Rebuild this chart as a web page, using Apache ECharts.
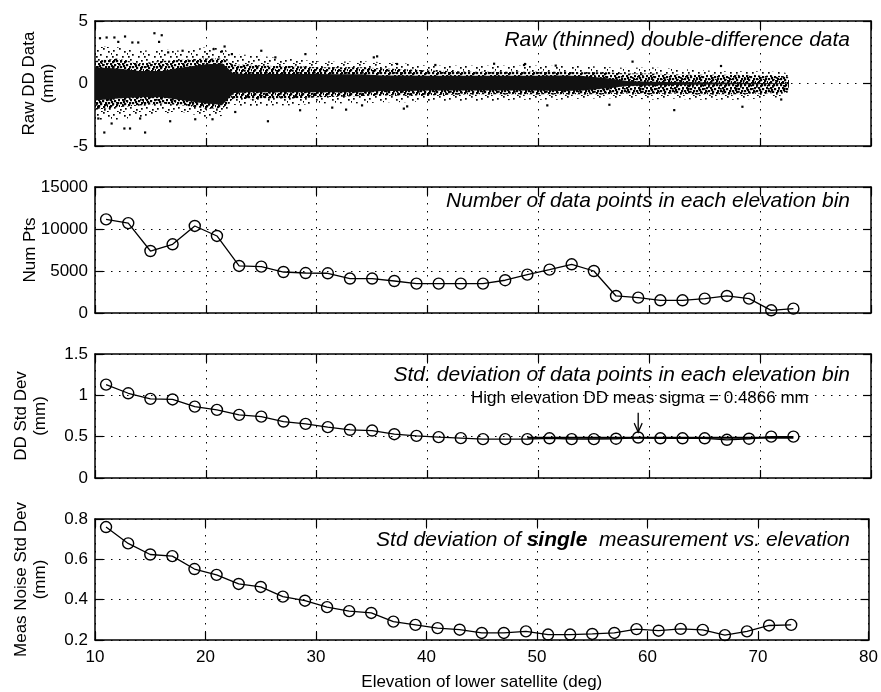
<!DOCTYPE html>
<html>
<head>
<meta charset="utf-8">
<script src="https://cdn.jsdelivr.net/npm/echarts@6/dist/echarts.min.js"></script>
<style>
  html, body { margin: 0; padding: 0; background: #fff; }
  #chart { width: 881px; height: 692px; }
</style>
</head>
<body>
<div id="chart"></div>
<script>
// ---- Elevation bins (deg) ----
const elev = [11, 13, 15, 17, 19, 21, 23, 25, 27, 29, 31, 33, 35, 37, 39, 41,
              43, 45, 47, 49, 51, 53, 55, 57, 59, 61, 63, 65, 67, 69, 71, 73];

// Number of data points in each elevation bin
const numPts = [11150, 10700, 7380, 8180, 10360, 9170, 5600, 5520, 4880, 4760, 4730, 4100, 4100, 3810, 3500, 3500,
                3500, 3500, 3900, 4570, 5160, 5800, 5000, 2030, 1830, 1510, 1510, 1710, 2030, 1710, 320, 520];

// Std. deviation of DD data in each bin (mm)
const ddStd = [1.13, 1.025, 0.957, 0.95, 0.864, 0.824, 0.764, 0.743, 0.683, 0.655, 0.615, 0.583, 0.574, 0.53, 0.51, 0.494,
               0.482, 0.47, 0.47, 0.47, 0.48, 0.47, 0.47, 0.475, 0.49, 0.48, 0.48, 0.48, 0.462, 0.475, 0.50, 0.50];

// Std. deviation of a single measurement (mm)
const measStd = [0.76, 0.679, 0.624, 0.616, 0.552, 0.523, 0.478, 0.463, 0.415, 0.395, 0.363, 0.343, 0.334, 0.291, 0.275, 0.259,
                 0.251, 0.235, 0.235, 0.243, 0.227, 0.227, 0.23, 0.235, 0.254, 0.246, 0.255, 0.25, 0.224, 0.243, 0.272, 0.275];

// High elevation DD sigma line and its annotation
const sigmaHigh = 0.4866;
const sigmaSpan = [49, 73];
const sigmaLabelAt = [59.15, 0.97];
const sigmaArrow = [[59, 0.79], [59, 0.555]];

// ---- Raw (thinned) DD point cloud: envelopes of the sparse fringe, dense body and core (mm) ----
const rawX    = [10, 12, 14, 16, 18, 20, 21.5, 22.5, 24, 26, 28, 30, 32, 34, 36, 38, 40, 42, 44, 46, 48, 50, 52, 54, 56, 58, 60, 62, 64, 66, 68, 70, 72, 72.6];
const fringeHi = [3.0, 2.9, 2.6, 2.75, 2.6, 2.9, 2.8, 2.3, 2.3, 2.1, 1.95, 1.8, 1.75, 1.8, 1.7, 1.6, 1.45, 1.45, 1.45, 1.45, 1.45, 1.45, 1.4, 1.4, 1.35, 1.25, 1.3, 1.2, 1.1, 1.0, 1.0, 1.0, 0.9, 0.8];
const fringeLo = [-2.9, -2.9, -2.7, -2.4, -2.3, -2.7, -2.6, -1.7, -1.9, -1.75, -1.75, -1.6, -1.6, -1.6, -1.5, -1.5, -1.4, -1.4, -1.4, -1.4, -1.3, -1.3, -1.3, -1.2, -1.2, -1.15, -1.3, -1.2, -1.3, -1.3, -1.3, -1.2, -1.1, -0.9];
const bodyHi  = [1.8, 2.0, 1.6, 1.8, 1.9, 2.0, 2.0, 1.5, 1.5, 1.4, 1.4, 1.3, 1.3, 1.3, 1.2, 1.15, 1.05, 1.0, 0.95, 0.95, 0.95, 0.95, 0.95, 0.9, 0.9, 0.8, 0.8, 0.75, 0.7, 0.7, 0.7, 0.65, 0.6, 0.5];
const bodyLo  = [-2.1, -1.9, -1.75, -1.6, -1.75, -2.0, -2.0, -1.2, -1.25, -1.2, -1.2, -1.1, -1.05, -1.0, -0.95, -0.95, -0.95, -0.9, -0.85, -0.85, -0.85, -0.85, -0.85, -0.85, -0.85, -0.8, -0.85, -0.8, -0.85, -0.85, -0.85, -0.8, -0.75, -0.6];
const coreHi  = [1.3, 1.2, 1.0, 1.0, 1.3, 1.55, 1.6, 0.8, 0.77, 0.77, 0.77, 0.77, 0.75, 0.75, 0.65, 0.65, 0.63, 0.63, 0.63, 0.63, 0.63, 0.63, 0.65, 0.6, 0.45, 0.2, 0.15, 0.12, 0.1, 0.08, 0.06, 0.05, 0.03, 0.0];
const coreLo  = [-1.35, -1.2, -1.1, -1.1, -1.35, -1.6, -1.7, -0.75, -0.7, -0.7, -0.7, -0.69, -0.69, -0.69, -0.6, -0.6, -0.56, -0.56, -0.56, -0.56, -0.56, -0.56, -0.6, -0.55, -0.4, -0.2, -0.15, -0.12, -0.1, -0.08, -0.06, -0.05, -0.03, 0.0];

// Isolated points outside the main cloud
const outX = [10.84, 12.65, 13.16, 14.52, 16.78, 15.36, 16.02, 12.71, 11.05, 11.75, 10.45, 13.9, 13.37, 12.1, 15.78, 21.69, 21.45, 20.7, 25.0, 26.27, 28.98,
              25.6, 19.04, 22.65, 20.6, 11.5, 10.3, 14.07, 28.5, 31.4, 32.65, 17.9, 16.6, 22.35,
              35.45, 35.15, 37.25, 37.86, 38.16, 40.7, 48.8, 51.56, 34.09, 50.8,
              58.49, 66.47, 48.7, 62.25, 68.4, 71.9, 56.4, 46.0];
const outY = [-3.92, -3.6, -3.6, -3.92, -3.02, 4.02, 3.86, 3.76, 3.68, 3.68, 3.62, 3.28, 3.28, 3.33, 3.33, 2.96, 2.57, 2.75, 2.62, 2.09, 2.35,
              -3.02, -2.86, -2.28, -2.86, -3.2, -2.8, -2.8, -2.14, -1.93, -2.09, 2.62, 2.49, 2.35,
              2.17, 2.09, 1.56, -2.01, -1.83, 1.48, 1.56, 1.43, -1.75, -1.75,
              1.75, 1.4, 1.48, -2.13, -1.86, -1.28, -1.7, 1.58];

// ---- Text ----
const xTicks = [10, 20, 30, 40, 50, 60, 70, 80];
const xTitle = 'Elevation of lower satellite (deg)';
const yTitles = ['Raw DD Data\n(mm)', 'Num Pts', 'DD Std Dev\n(mm)', 'Meas Noise Std Dev\n(mm)'];
const panelTitles = [
  'Raw (thinned) double-difference data',
  'Number of data points in each elevation bin',
  'Std. deviation of data points in each elevation bin',
  'Std deviation of {b|single}  measurement vs. elevation'
];
const sigmaText = 'High elevation DD meas sigma = 0.4866 mm';
const yRanges = [[-5, 5, 5], [0, 15000, 5000], [0, 1.5, 0.5], [0.2, 0.8, 0.2]];

// ---- Styling ----
const FONT = '"Liberation Sans", Arial, Helvetica, sans-serif';
const gridTops = [21, 187, 354, 519];
const gridHeights = [125, 126, 124, 125];
const yNameGaps = [37, 55, 45, 45];

// stipple textures for the point cloud
function stipple(size, dots, d) {
  const c = document.createElement('canvas');
  c.width = size; c.height = size;
  const g = c.getContext('2d');
  g.fillStyle = '#000';
  dots.forEach(p => g.fillRect(p[0], p[1], d, d));
  return c;
}
const fringeFill = {
  image: stipple(16, [[1, 2], [7, 0], [12, 3], [4, 6], [10, 8], [15, 5], [2, 11], [8, 13], [13, 12], [5, 15], [11, 15], [0, 8]], 1.7),
  repeat: 'repeat'
};
const bodyFill = {
  image: stipple(12, [[0, 0], [4, 1], [8, 0], [2, 3], [6, 4], [10, 3], [0, 6], [4, 7], [9, 6], [2, 9], [7, 10], [11, 9], [5, 0], [1, 10], [8, 8], [3, 5]], 2.2),
  repeat: 'repeat'
};

const chart = echarts.init(document.getElementById('chart'), null, { renderer: 'canvas' });

const grids = gridTops.map((t, i) => ({ left: 95, right: 10, top: t, height: gridHeights[i] }));

const xAxes = [];
const yAxes = [];
for (let i = 0; i < 4; i++) {
  const baseAxisLine = { show: true, onZero: false, lineStyle: { color: '#000', width: 1.5 } };
  const tick = { show: true, inside: true, length: 8, lineStyle: { color: '#000', width: 1.2 } };
  xAxes.push({
    type: 'value', gridIndex: i, position: 'bottom', min: xTicks[0], max: xTicks[xTicks.length - 1], interval: 10,
    axisLine: baseAxisLine, axisTick: tick,
    axisLabel: { show: i === 3, color: '#000', fontSize: 17, fontFamily: FONT, margin: 9 },
    splitLine: { show: true, lineStyle: { color: '#000', width: 1, type: [1.5, 6.5] } },
    name: i === 3 ? xTitle : '', nameLocation: 'middle', nameGap: 34, nameMoveOverlap: false,
    nameTextStyle: { color: '#000', fontSize: 17, fontFamily: FONT }
  });
  xAxes.push({
    type: 'value', gridIndex: i, position: 'top', min: xTicks[0], max: xTicks[xTicks.length - 1], interval: 10,
    axisLine: baseAxisLine, axisTick: tick, axisLabel: { show: false }, splitLine: { show: false }
  });
  const r = yRanges[i];
  yAxes.push({
    type: 'value', gridIndex: i, position: 'left', min: r[0], max: r[1], interval: r[2],
    axisLine: baseAxisLine, axisTick: tick,
    axisLabel: { color: '#000', fontSize: 17, fontFamily: FONT, margin: 7, formatter: v => String(+v.toFixed(4)) },
    splitLine: { show: true, lineStyle: { color: '#000', width: 1, type: [1.5, 6.5] } },
    name: yTitles[i], nameLocation: 'middle', nameRotate: 90, nameGap: yNameGaps[i], nameMoveOverlap: false,
    nameTextStyle: { color: '#000', fontSize: 17, lineHeight: 19, fontFamily: FONT }
  });
  yAxes.push({
    type: 'value', gridIndex: i, position: 'right', min: r[0], max: r[1], interval: r[2],
    axisLine: baseAxisLine, axisTick: tick, axisLabel: { show: false }, splitLine: { show: false }
  });
}

const titleCenters = [40, 201, 375, 540];
const titles = panelTitles.map((t, i) => ({
  text: t, right: 31, top: titleCenters[i] - 11, padding: 0,
  textStyle: {
    color: '#000', fontSize: 21, lineHeight: 23, fontStyle: 'italic', fontWeight: 'normal', fontFamily: FONT,
    rich: { b: { color: '#000', fontSize: 21, lineHeight: 23, fontStyle: 'italic', fontWeight: 'bold', fontFamily: FONT } }
  }
}));

function band(hi, lo, fill) {
  return {
    type: 'custom', xAxisIndex: 0, yAxisIndex: 0, silent: true,
    data: [[rawX[0], 0]],
    renderItem: function (params, api) {
      const pts = [];
      for (let k = 0; k < rawX.length; k++) pts.push(api.coord([rawX[k], hi[k]]));
      for (let k = rawX.length - 1; k >= 0; k--) pts.push(api.coord([rawX[k], lo[k]]));
      return { type: 'polygon', shape: { points: pts }, style: { fill: fill } };
    }
  };
}

function profile(vals, axis) {
  return {
    type: 'line', xAxisIndex: axis, yAxisIndex: axis,
    data: elev.map((x, k) => [x, vals[k]]),
    symbol: 'circle', symbolSize: 11, showAllSymbol: true,
    lineStyle: { color: '#000', width: 1.3 },
    itemStyle: { color: 'transparent', borderColor: '#000', borderWidth: 1.4 },
    z: 3
  };
}

const option = {
  backgroundColor: '#fff',
  animation: false,
  textStyle: { fontFamily: FONT },
  title: titles,
  grid: grids,
  xAxis: xAxes,
  yAxis: yAxes,
  series: [
    band(fringeHi, fringeLo, fringeFill),
    band(bodyHi, bodyLo, bodyFill),
    band(coreHi, coreLo, '#111'),
    {
      type: 'scatter', xAxisIndex: 0, yAxisIndex: 0,
      data: outX.map((x, k) => [x, outY[k]]),
      symbol: 'rect', symbolSize: 2.2, itemStyle: { color: '#000', opacity: 1 }, silent: true
    },
    profile(numPts, 2),
    profile(ddStd, 4),
    profile(measStd, 6),
    {
      type: 'line', xAxisIndex: 4, yAxisIndex: 4,
      data: [[sigmaSpan[0], sigmaHigh], [sigmaSpan[1], sigmaHigh]],
      symbol: 'none', lineStyle: { color: '#000', width: 2 }, z: 2
    },
    {
      type: 'line', xAxisIndex: 4, yAxisIndex: 4,
      data: [
        { value: sigmaArrow[0], symbol: 'none' },
        { value: sigmaArrow[1], symbol: 'path://M0 0L5 10L10 0', symbolSize: [8, 9], symbolOffset: [0, -4.5],
          itemStyle: { color: 'transparent', borderColor: '#000', borderWidth: 1.3 } }
      ],
      lineStyle: { color: '#000', width: 1.3 }, z: 4
    },
    {
      type: 'scatter', xAxisIndex: 4, yAxisIndex: 4,
      data: [sigmaLabelAt], symbolSize: 0, itemStyle: { opacity: 1 },
      label: { show: true, position: 'inside', formatter: sigmaText, color: '#000', opacity: 1, fontSize: 17, fontFamily: FONT },
      z: 5
    }
  ]
};
chart.setOption(option);
</script>
</body>
</html>
